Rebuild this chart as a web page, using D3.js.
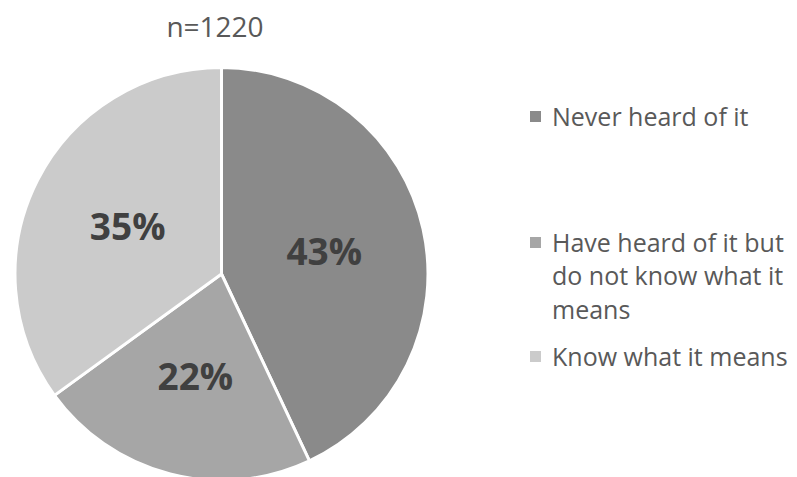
<!DOCTYPE html>
<html>
<head>
<meta charset="utf-8">
<script src="https://cdn.jsdelivr.net/npm/d3@7"></script>
<style>
  body { margin: 0; background: #fff; }
  svg { display: block; font-family: "Open Sans", "Noto Sans", sans-serif; }
</style>
</head>
<body>
<div id="chart"></div>
<script>
var title = "n=1220"
var categories = ["Never heard of it", "Have heard of it but do not know what it means", "Know what it means"]
var legendLines = [["Never heard of it"], ["Have heard of it but", "do not know what it", "means"], ["Know what it means"]]
var values = [43, 22, 35]
var colors = ["#8a8a8a", "#a6a6a6", "#cbcbcb"]

var width = 797, height = 477
var cx = 221.5, cy = 274, r = 206.5

var svg = d3.select("#chart").append("svg")
  .attr("width", width)
  .attr("height", height)

svg.append("text")
  .attr("x", 215)
  .attr("y", 37)
  .attr("text-anchor", "middle")
  .attr("font-size", 28)
  .attr("fill", "#595959")
  .text(title)

var pie = d3.pie().sort(null).value(d => d)
var arc = d3.arc().innerRadius(0).outerRadius(r)
var arcs = pie(values)

var g = svg.append("g")
  .attr("transform", "translate(" + cx + "," + cy + ")")

g.selectAll("path")
    .data(arcs)
  .enter().append("path")
    .attr("d", arc)
    .attr("fill", (d, i) => colors[i])
    .attr("stroke", "#fff")
    .attr("stroke-width", 3)
    .attr("stroke-linejoin", "round")

// labels sit about half way out
var labelArc = d3.arc().innerRadius(r * 0.51).outerRadius(r * 0.51)
g.selectAll("text.pct")
    .data(arcs)
  .enter().append("text")
    .attr("class", "pct")
    .attr("transform", d => "translate(" + labelArc.centroid(d) + ")")
    .attr("text-anchor", "middle")
    .attr("dy", "0.38em")
    .attr("font-size", 37)
    .attr("font-weight", "bold")
    .attr("fill", "#404040")
    .text(d => d.data + "%")

// legend
var legendY = [117, 243, 357]
var lineH = 33.5
var lg = svg.append("g")
categories.forEach((c, i) => {
  var item = lg.append("g").attr("transform", "translate(530," + legendY[i] + ")")
  item.append("rect")
    .attr("x", 0).attr("y", -6)
    .attr("width", 11).attr("height", 11)
    .attr("fill", colors[i])
  var t = item.append("text")
    .attr("x", 22)
    .attr("font-size", 25)
    .attr("fill", "#595959")
  legendLines[i].forEach((ln, j) => {
    t.append("tspan")
      .attr("x", 22)
      .attr("y", j * lineH)
      .attr("dy", "0.35em")
      .text(ln)
  })
})
</script>
</body>
</html>
